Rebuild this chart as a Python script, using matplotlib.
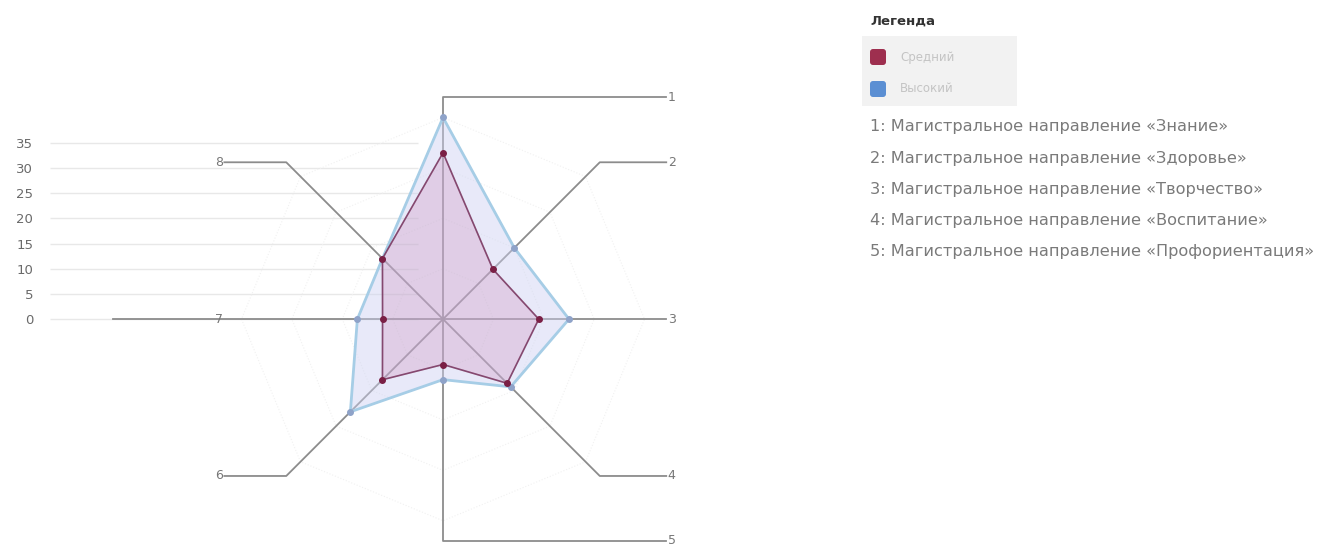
import numpy as np
import matplotlib.pyplot as plt
from matplotlib.patches import FancyBboxPatch, Rectangle

# axis names (clockwise from top) and series values
axis_labels = ['1', '2', '3', '4', '5', '6', '7', '8']
medium = [33, 14, 19, 18, 9, 17, 12, 17]
high = [40, 20, 25, 19, 12, 26, 17, 17]
series_names = ['Средний', 'Высокий']
y_ticks = [0, 5, 10, 15, 20, 25, 30, 35]
legend_lines = [
    '1: Магистральное направление «Знание»',
    '2: Магистральное направление «Здоровье»',
    '3: Магистральное направление «Творчество»',
    '4: Магистральное направление «Воспитание»',
    '5: Магистральное направление «Профориентация»',
]

W, H = 1322, 547
dpi = 100
fig = plt.figure(figsize=(W / dpi, H / dpi), dpi=dpi)

# main axes: 1 data unit ~ 5.04 px, centre of the radar at (0, 0)
ax = fig.add_axes([50 / W, 0, 650 / W, 487 / H])
ax.set_xlim(-78, 51)
ax.set_ylim(-45.2, 51.4)
for s in ax.spines.values():
    s.set_visible(False)
ax.set_xticks([])
ax.set_yticks(y_ticks)
ax.tick_params(axis='y', length=0, pad=12, labelsize=9.5, labelcolor='#6a6a6a')

ax.hlines(y_ticks, -78, -5, color='#e8e8e8', lw=1, zorder=0)

n = len(axis_labels)
theta = np.arange(n) * 2 * np.pi / n
sx, sy = np.sin(theta), np.cos(theta)

# faint rings
for r in [10, 20, 30, 40]:
    ax.plot(np.append(r * sx, r * sx[0]), np.append(r * sy, r * sy[0]),
            color='#f1f1f1', lw=0.8, ls=':', zorder=0)

# spokes with leader lines to the labels
R = 44
line_col = '#8c8c8c'
for i, lab in enumerate(axis_labels):
    ex, ey = R * sx[i], R * sy[i]
    if i == 6:
        ax.plot([0, -65.5], [0, 0], color=line_col, lw=1.3, zorder=1)
        ax.text(-44.5, 0, lab, ha='center', va='center', fontsize=9, color='#777777')
        continue
    right = sx[i] > 0.01 or i in (0, 4)
    lx = 44.3 if right else -43.4
    ax.plot([0, ex, lx], [0, ey, ey], color=line_col, lw=1.3, zorder=1)
    if right:
        ax.text(lx + 0.3, ey, lab, ha='left', va='center', fontsize=9, color='#777777')
    else:
        ax.text(lx - 0.3, ey, lab, ha='right', va='center', fontsize=9, color='#777777')

# series
def polygon(vals):
    v = np.array(vals, dtype=float)
    x = v * sx
    y = v * sy
    return np.append(x, x[0]), np.append(y, y[0])

hx, hy = polygon(high)
ax.fill(hx, hy, color='#cdd0f2', alpha=0.45, zorder=2)
ax.plot(hx, hy, color='#a6cde6', lw=2, zorder=3)
ax.plot(hx[:-1], hy[:-1], 'o', ms=4, color='#8fa3c9', zorder=5)

mx, my = polygon(medium)
ax.fill(mx, my, color='#c0609a', alpha=0.2, zorder=3)
ax.plot(mx, my, color='#7b3b63', lw=1.2, alpha=0.9, zorder=4)
ax.plot(mx[:-1], my[:-1], 'o', ms=4, color='#7a1f45', zorder=6)

# legend area in pixel coordinates
lg = fig.add_axes([0, 0, 1, 1])
lg.set_xlim(0, W)
lg.set_ylim(H, 0)
lg.axis('off')
lg.text(870, 21, 'Легенда', fontsize=9.5, fontweight='bold', color='#333333', va='center')
lg.add_patch(Rectangle((862, 36), 155, 70, color='#f2f2f2', lw=0))
sq_cols = ['#9e2f4f', '#5b8fd3']
for k, (name, c) in enumerate(zip(series_names, sq_cols)):
    yc = 57 + 32 * k
    lg.add_patch(FancyBboxPatch((870, yc - 8), 16, 16, boxstyle='round,pad=0,rounding_size=3',
                                color=c, lw=0))
    lg.text(900, yc, name, fontsize=8.5, color='#c4c4c4', va='center')
for k, t in enumerate(legend_lines):
    lg.text(870, 127 + 31.2 * k, t, fontsize=11.6, color='#7a7a7a', va='center')

fig.savefig('out.png', dpi=dpi)
